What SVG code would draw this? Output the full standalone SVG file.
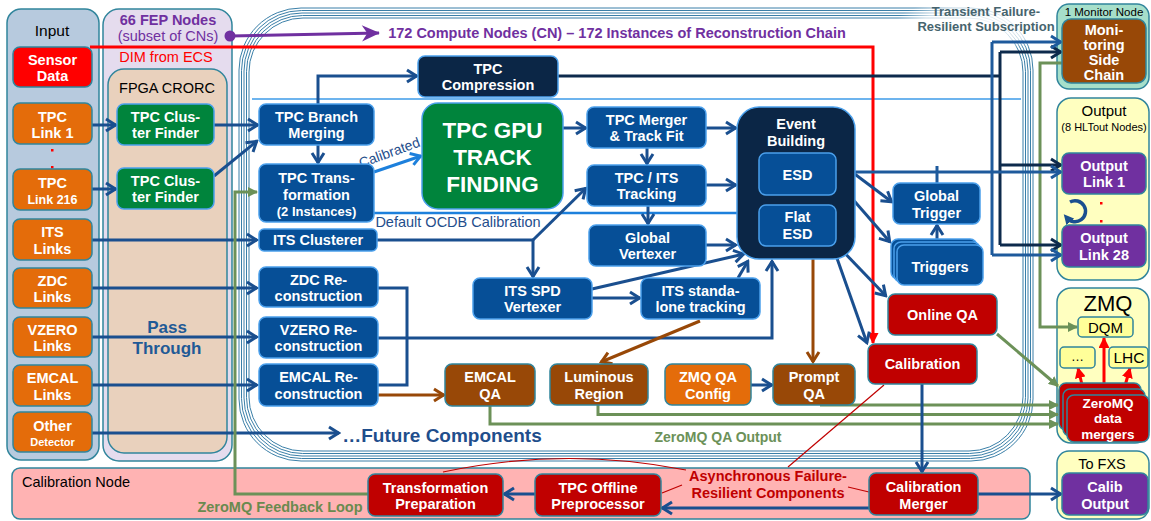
<svg xmlns="http://www.w3.org/2000/svg" width="1151" height="521" viewBox="0 0 1151 521">
<defs>
<style>
text{font-family:"Liberation Sans",Arial,sans-serif}
.nt{fill:#fff;font-weight:bold;font-size:14.5px;text-anchor:middle}
.pn{stroke:#31859c;stroke-width:1.5}
.b{fill:#064f97;stroke:#4ba0ec;stroke-width:1.5}
.nv{fill:#0b2646;stroke:#4ba0ec;stroke-width:1.5}
.g{fill:#00843c;stroke:#4ba0ec;stroke-width:1.5}
.o{fill:#e46c0a;stroke:#31859c;stroke-width:1.5}
.r{fill:#c00000;stroke:#31859c;stroke-width:1.5}
.br{fill:#984807;stroke:#31859c;stroke-width:1.5}
.p{fill:#7030a0;stroke:#31859c;stroke-width:1.5}
.y{fill:#ffff99;stroke:#31859c;stroke-width:1.5}
.cr{fill:none;stroke:#3a7fa8;stroke-width:1}
.cb{fill:none;stroke:#1a4f8f;stroke-width:3;marker-end:url(#mb)}
.cl{fill:none;stroke:#1a4f8f;stroke-width:3}
.cc{fill:none;stroke:#1d80dc;stroke-width:3;marker-end:url(#mc)}
.cn{fill:none;stroke:#0d2a4c;stroke-width:3}
.cna{fill:none;stroke:#0d2a4c;stroke-width:3;marker-end:url(#mn)}
.cm{fill:none;stroke:#1e5a9c;stroke-width:3}
.cma{fill:none;stroke:#1e5a9c;stroke-width:3;marker-end:url(#mm)}
.cg{fill:none;stroke:#6c9158;stroke-width:3;marker-end:url(#mg)}
.cbr{fill:none;stroke:#984807;stroke-width:3;marker-end:url(#mbr)}
.tr{fill:none;stroke:#c00000;stroke-width:1.2}
</style>
<marker id="mb" viewBox="0 0 16 16" refX="14" refY="8" markerWidth="16" markerHeight="16" orient="auto" markerUnits="userSpaceOnUse"><path d="M4,2 L13.5,8 L4,14" fill="none" stroke="#1a4f8f" stroke-width="3"/></marker>
<marker id="mc" viewBox="0 0 16 16" refX="14" refY="8" markerWidth="16" markerHeight="16" orient="auto" markerUnits="userSpaceOnUse"><path d="M4,2 L13.5,8 L4,14" fill="none" stroke="#1d80dc" stroke-width="3"/></marker>
<marker id="mn" viewBox="0 0 16 16" refX="14" refY="8" markerWidth="16" markerHeight="16" orient="auto" markerUnits="userSpaceOnUse"><path d="M4,2 L13.5,8 L4,14" fill="none" stroke="#0d2a4c" stroke-width="3"/></marker>
<marker id="mm" viewBox="0 0 16 16" refX="14" refY="8" markerWidth="16" markerHeight="16" orient="auto" markerUnits="userSpaceOnUse"><path d="M4,2 L13.5,8 L4,14" fill="none" stroke="#1e5a9c" stroke-width="3"/></marker>
<marker id="mbr" viewBox="0 0 16 16" refX="14" refY="8" markerWidth="16" markerHeight="16" orient="auto" markerUnits="userSpaceOnUse"><path d="M4,2 L13.5,8 L4,14" fill="none" stroke="#984807" stroke-width="3"/></marker>
<marker id="mg" viewBox="0 0 10 10" refX="9" refY="5" markerWidth="10" markerHeight="10" orient="auto" markerUnits="userSpaceOnUse"><path d="M0,0 L10,5 L0,10 z" fill="#6c9158"/></marker>
<marker id="mr" viewBox="0 0 10 10" refX="9" refY="5" markerWidth="11" markerHeight="11" orient="auto" markerUnits="userSpaceOnUse"><path d="M0,0 L10,5 L0,10 z" fill="#ff0000"/></marker>
<marker id="mt" viewBox="0 0 10 10" refX="5" refY="5" markerWidth="10" markerHeight="10" orient="auto" markerUnits="userSpaceOnUse"><path d="M0,0 L10,5 L0,10 z" fill="#1a4f8f"/></marker>
<marker id="mp" viewBox="0 0 20 20" refX="19" refY="10" markerWidth="20" markerHeight="18" orient="auto" markerUnits="userSpaceOnUse"><path d="M0,1 L20,10 L0,19 L6,10 z" fill="#7030a0"/></marker>
<radialGradient id="glow" cx="0.5" cy="0.5" r="0.5"><stop offset="0" stop-color="#fff" stop-opacity="0.95"/><stop offset="0.7" stop-color="#fff" stop-opacity="0.7"/><stop offset="1" stop-color="#fff" stop-opacity="0"/></radialGradient>
</defs>

<rect width="1151" height="521" fill="#fff"/>

<!-- Panels -->
<g id="panels">
<rect id="input-panel" class="pn" x="7" y="9" width="92" height="451" rx="14" fill="#b7cade"/>
<text x="52" y="36" text-anchor="middle" font-size="15.5px">Input</text>
<rect id="fep-panel" class="pn" x="103" y="9" width="129" height="452" rx="16" fill="#e5dcee"/>
<text x="168" y="25" text-anchor="middle" font-size="14.5px" font-weight="bold" fill="#7030a0">66 FEP Nodes</text>
<text x="168" y="41" text-anchor="middle" font-size="14.5px" fill="#7030a0">(subset of CNs)</text>
<text x="166" y="62" text-anchor="middle" font-size="14.5px" fill="#ff0000">DIM from ECS</text>
<rect id="fpga-panel" class="pn" x="108" y="69" width="119" height="384" rx="16" fill="#e9d1bd"/>
<text x="167" y="93" text-anchor="middle" font-size="14.5px">FPGA CRORC</text>
<text x="167" y="333" text-anchor="middle" font-size="17px" font-weight="bold" fill="#1f5a96">Pass</text>
<text x="167" y="354" text-anchor="middle" font-size="17px" font-weight="bold" fill="#1f5a96">Through</text>

<g id="cn-panel">
<rect class="cr" x="239" y="8" width="794" height="453" rx="62" fill="#fff"/>
<rect class="cr" x="241.5" y="10.5" width="789" height="448" rx="60"/>
<rect class="cr" x="244" y="13" width="784" height="443" rx="58"/>
<rect class="cr" x="246.5" y="15.5" width="779" height="438" rx="56"/>
<rect class="cr" x="249" y="18" width="774" height="433" rx="54" fill="#e4dcee"/>
</g>
<ellipse cx="985" cy="24" rx="90" ry="26" fill="url(#glow)"/>
<text x="986" y="16" text-anchor="middle" font-size="13px" font-weight="bold" fill="#46646e">Transient Failure-</text>
<text x="986" y="31" text-anchor="middle" font-size="13px" font-weight="bold" fill="#46646e">Resilient Subscription</text>
<line x1="252" y1="99" x2="1021" y2="99" stroke="#3d9be9" stroke-width="1.5"/>
<text x="617" y="38" text-anchor="middle" font-size="14.5px" font-weight="bold" fill="#7030a0">172 Compute Nodes (CN) – 172 Instances of Reconstruction Chain</text>
<text x="442" y="442" text-anchor="middle" font-size="19px" font-weight="bold" fill="#1f4e8c">…Future Components</text>
<text x="718" y="442" text-anchor="middle" font-size="14px" font-weight="bold" fill="#6c9158">ZeroMQ QA Output</text>
<text x="458" y="227" text-anchor="middle" font-size="14.5px" fill="#1f4e8c">Default OCDB Calibration</text>
<text x="0" y="0" font-size="14px" fill="#1f4e8c" text-anchor="middle" transform="translate(391,157) rotate(-20)">Calibrated</text>

<rect id="calib-panel" class="pn" x="12" y="468" width="1018" height="51" rx="8" fill="#ffb3b3"/>
<text x="22" y="487" font-size="14.5px">Calibration Node</text>
<text x="280" y="512" text-anchor="middle" font-size="14.5px" font-weight="bold" fill="#6a8a4f">ZeroMQ Feedback Loop</text>
<text x="768" y="481" text-anchor="middle" font-size="14.5px" font-weight="bold" fill="#c00000">Asynchronous Failure-</text>
<text x="768" y="498" text-anchor="middle" font-size="14.5px" font-weight="bold" fill="#c00000">Resilient Components</text>

<rect id="monitor-panel" class="pn" x="1057" y="4" width="92" height="85" rx="12" fill="#a6dfca"/>
<text x="1104" y="16" text-anchor="middle" font-size="11.5px">1 Monitor Node</text>
<rect id="output-panel" class="pn" x="1057" y="98" width="92" height="182" rx="14" fill="#ffffc0"/>
<text x="1104" y="116" text-anchor="middle" font-size="15px">Output</text>
<text x="1104" y="131" text-anchor="middle" font-size="11px">(8 HLTout Nodes)</text>
<rect x="1100" y="202" width="2.5" height="2.5" fill="#ff0000"/>
<rect x="1100" y="220" width="2.5" height="2.5" fill="#ff0000"/>
<rect id="zmq-panel" class="pn" x="1057" y="288" width="92" height="155" rx="14" fill="#ffffc0"/>
<text x="1108" y="311" text-anchor="middle" font-size="22px">ZMQ</text>
<rect id="fxs-panel" class="pn" x="1057" y="451" width="92" height="68" rx="12" fill="#ffffc0"/>
<text x="1102" y="469" text-anchor="middle" font-size="14.5px">To FXS</text>
<rect x="51" y="149" width="2.5" height="2.5" fill="#ff0000"/>
<rect x="51" y="166" width="2.5" height="2.5" fill="#ff0000"/>
</g>

<!-- Connectors -->
<g id="connectors">
<path d="M230,36 L379,33" fill="none" stroke="#7030a0" stroke-width="3" marker-end="url(#mp)"/>
<circle cx="230" cy="36" r="5.5" fill="#7030a0"/>
<path d="M90,47 H873 V343" fill="none" stroke="#ff0000" stroke-width="3" marker-end="url(#mr)"/>
<path class="cb" d="M92,125 H116"/>
<path class="cb" d="M92,189 H116"/>
<path class="cb" d="M214,125 H258"/>
<path class="cb" d="M214,176 L257,141"/>
<path class="cb" d="M92,240 H257"/>
<path class="cb" d="M92,288 H257"/>
<path class="cb" d="M92,337 H257"/>
<path class="cb" d="M92,385 H257"/>
<path class="cb" d="M92,433 H339"/>
<path class="cb" d="M318,104 V76 H417"/>
<path class="cb" d="M318,145 V163"/>
<path class="cc" d="M374,172 L421,156"/>
<path d="M374,213 H759" fill="none" stroke="#1d80dc" stroke-width="2.5" marker-end="url(#mc)"/>
<path class="cb" d="M377,240 H533 V277"/>
<path class="cb" d="M533,240 L586,188"/>
<path class="cb" d="M563,128 H586"/>
<path class="cb" d="M647,148 V164"/>
<path class="cb" d="M706,128 H736"/>
<path class="cb" d="M706,185 H736"/>
<path class="cb" d="M648,206 V224"/>
<path class="cb" d="M706,245 H736"/>
<path class="cb" d="M592,289 L744,254"/>
<path class="cb" d="M592,298 H640"/>
<path class="cb" d="M738,278 L748,261"/>
<path class="cb" d="M378,338 H772 V261"/>
<path class="cl" d="M378,288 H407 V385 H378"/>
<path class="cbr" d="M378,395 H444"/>
<path class="cbr" d="M700,321 L601,362"/>
<path class="cbr" d="M813,259 V362"/>
<path class="cb" d="M751,385 H772"/>
<path class="cg" d="M490,406 V424 H1058"/>
<path class="cg" d="M598,405 V414.5 H1058"/>
<path class="cg" d="M820,405 H1058"/>
<path class="cg" d="M997,334 L1058,386"/>
<path class="cg" d="M1062,63 H1040 V327 H1077"/>
<path class="cn" d="M558,76 H1000"/>
<path class="cn" d="M1000,52 V245"/>
<path class="cna" d="M1000,52 H1061"/>
<path class="cna" d="M1000,165 H1061"/>
<path class="cna" d="M1000,245 H1061"/>
<path class="cma" d="M836,172 H1061"/>
<path class="cm" d="M992,42 V255"/>
<path class="cma" d="M992,42 H1061"/>
<path class="cma" d="M992,255 H1061"/>
<path class="cm" d="M937,183 V166"/>
<path class="cb" d="M937,240 V225"/>
<path class="cb" d="M836,160 L892,202"/>
<path class="cb" d="M836,180 L890,242"/>
<path class="cb" d="M836,244 L886,296"/>
<path class="cb" d="M833,247 L867,343"/>
<path class="cb" d="M922,384 V472"/>
<path class="cb" d="M978,494 H1061"/>
<path class="cb" d="M869,508 H662"/>
<path class="cb" d="M535,494 H504"/>
<path class="cg" d="M368,494 H235 V192 H257"/>
<path d="M1084,393 L1078,368" fill="none" stroke="#ff0000" stroke-width="3" marker-end="url(#mr)"/>
<path d="M1104,395 V338" fill="none" stroke="#ff0000" stroke-width="3" marker-end="url(#mr)"/>
<path d="M1123,393 L1130,368" fill="none" stroke="#ff0000" stroke-width="3" marker-end="url(#mr)"/>
<path class="tr" d="M788,467 L884,385"/>
<path class="tr" d="M443,472 Q565,446 686,470"/>
<path class="tr" d="M662,493 L682,485"/>
<path class="tr" d="M848,487 L869,492"/>
<path d="M1070,202 A10.5,10.5 0 1 1 1067,218" fill="none" stroke="#1a4f8f" stroke-width="3.5" marker-end="url(#mt)"/>
</g>

<!-- Input nodes -->
<g id="sensor-data"><rect x="13" y="47" width="79" height="40" rx="7" fill="#ff0000" stroke="#31859c" stroke-width="1.5"/><text class="nt" x="52.5" y="65">Sensor</text><text class="nt" x="52.5" y="81">Data</text></g>
<g id="tpc-link-1"><rect class="o" x="13" y="103" width="79" height="41" rx="7"/><text class="nt" x="52.5" y="122">TPC</text><text class="nt" x="52.5" y="138">Link 1</text></g>
<g id="tpc-link-216"><rect class="o" x="13" y="169" width="79" height="41" rx="7"/><text class="nt" x="52.5" y="188">TPC</text><text class="nt" x="52.5" y="204" style="font-size:12.5px">Link 216</text></g>
<g id="its-links"><rect class="o" x="13" y="219" width="79" height="41" rx="7"/><text class="nt" x="52.5" y="237">ITS</text><text class="nt" x="52.5" y="254">Links</text></g>
<g id="zdc-links"><rect class="o" x="13" y="268" width="79" height="40" rx="7"/><text class="nt" x="52.5" y="286">ZDC</text><text class="nt" x="52.5" y="302">Links</text></g>
<g id="vzero-links"><rect class="o" x="13" y="317" width="79" height="40" rx="7"/><text class="nt" x="52.5" y="335">VZERO</text><text class="nt" x="52.5" y="351">Links</text></g>
<g id="emcal-links"><rect class="o" x="13" y="365" width="79" height="41" rx="7"/><text class="nt" x="52.5" y="383">EMCAL</text><text class="nt" x="52.5" y="400">Links</text></g>
<g id="other-detector"><rect class="o" x="13" y="412" width="79" height="40" rx="7"/><text class="nt" x="52.5" y="431">Other</text><text class="nt" x="52.5" y="446" style="font-size:11px">Detector</text></g>

<!-- FPGA nodes -->
<g id="tpc-cf-1"><rect class="g" x="117" y="104" width="97" height="41" rx="7"/><text class="nt" x="165.5" y="122">TPC Clus-</text><text class="nt" x="165.5" y="138">ter Finder</text></g>
<g id="tpc-cf-2"><rect class="g" x="117" y="168" width="97" height="41" rx="7"/><text class="nt" x="165.5" y="186">TPC Clus-</text><text class="nt" x="165.5" y="202">ter Finder</text></g>

<!-- Compute nodes -->
<g id="tpc-compression"><rect class="nv" x="418" y="56" width="140" height="41" rx="7"/><text class="nt" x="488" y="74">TPC</text><text class="nt" x="488" y="90">Compression</text></g>
<g id="tpc-branch-merging"><rect class="b" x="259" y="104" width="115" height="41" rx="7"/><text class="nt" x="316.5" y="122">TPC Branch</text><text class="nt" x="316.5" y="138">Merging</text></g>
<g id="tpc-transformation"><rect class="b" x="259" y="164" width="115" height="58" rx="7"/><text class="nt" x="316.5" y="183">TPC Trans-</text><text class="nt" x="316.5" y="200">formation</text><text class="nt" x="316.5" y="216" style="font-size:13px">(2 Instances)</text></g>
<g id="its-clusterer"><rect class="b" x="259" y="229" width="118" height="22" rx="5"/><text class="nt" x="318" y="245">ITS Clusterer</text></g>
<g id="zdc-reco"><rect class="b" x="259" y="267" width="119" height="40" rx="7"/><text class="nt" x="318.5" y="285">ZDC Re-</text><text class="nt" x="318.5" y="301">construction</text></g>
<g id="vzero-reco"><rect class="b" x="259" y="317" width="119" height="41" rx="7"/><text class="nt" x="318.5" y="335">VZERO Re-</text><text class="nt" x="318.5" y="351">construction</text></g>
<g id="emcal-reco"><rect class="b" x="259" y="364" width="119" height="42" rx="7"/><text class="nt" x="318.5" y="382">EMCAL Re-</text><text class="nt" x="318.5" y="399">construction</text></g>
<g id="tpc-gpu"><rect class="g" x="422" y="103" width="141" height="106" rx="16"/><text class="nt" x="492.5" y="138" style="font-size:22.5px">TPC GPU</text><text class="nt" x="492.5" y="165" style="font-size:22.5px">TRACK</text><text class="nt" x="492.5" y="192" style="font-size:22.5px">FINDING</text></g>
<g id="tpc-merger"><rect class="b" x="587" y="107" width="119" height="41" rx="7"/><text class="nt" x="646.5" y="125">TPC Merger</text><text class="nt" x="646.5" y="141">&amp; Track Fit</text></g>
<g id="tpc-its-tracking"><rect class="b" x="587" y="165" width="119" height="41" rx="7"/><text class="nt" x="646.5" y="183">TPC / ITS</text><text class="nt" x="646.5" y="199">Tracking</text></g>
<g id="global-vertexer"><rect class="b" x="589" y="225" width="117" height="41" rx="7"/><text class="nt" x="647.5" y="243">Global</text><text class="nt" x="647.5" y="259">Vertexer</text></g>
<g id="its-spd-vertexer"><rect class="b" x="473" y="278" width="119" height="41" rx="7"/><text class="nt" x="532.5" y="296">ITS SPD</text><text class="nt" x="532.5" y="312">Vertexer</text></g>
<g id="its-standalone"><rect class="b" x="641" y="278" width="119" height="41" rx="7"/><text class="nt" x="700.5" y="296">ITS standa-</text><text class="nt" x="700.5" y="312">lone tracking</text></g>
<g id="event-building"><rect class="nv" x="737" y="107" width="118" height="152" rx="22"/><text class="nt" x="796" y="129">Event</text><text class="nt" x="796" y="146">Building</text></g>
<g id="esd"><rect class="b" x="759" y="153" width="77" height="42" rx="7"/><text class="nt" x="797.5" y="180">ESD</text></g>
<g id="flat-esd"><rect class="b" x="759" y="205" width="77" height="41" rx="7"/><text class="nt" x="797.5" y="222">Flat</text><text class="nt" x="797.5" y="239">ESD</text></g>
<g id="global-trigger"><rect class="b" x="893" y="183" width="87" height="41" rx="7"/><text class="nt" x="936.5" y="201">Global</text><text class="nt" x="936.5" y="218">Trigger</text></g>
<g id="triggers"><rect class="b" x="891" y="239" width="86" height="40" rx="7"/><rect class="b" x="894" y="242" width="86" height="40" rx="7"/><rect class="b" x="897" y="245" width="86" height="40" rx="7"/><text class="nt" x="940" y="272">Triggers</text></g>
<g id="online-qa"><rect class="r" x="888" y="294" width="109" height="41" rx="7"/><text class="nt" x="942.5" y="320">Online QA</text></g>
<g id="calibration"><rect class="r" x="868" y="344" width="109" height="40" rx="7"/><text class="nt" x="922.5" y="369">Calibration</text></g>
<g id="emcal-qa"><rect class="br" x="445" y="364" width="90" height="42" rx="7"/><text class="nt" x="490" y="382">EMCAL</text><text class="nt" x="490" y="399">QA</text></g>
<g id="luminous-region"><rect class="br" x="550" y="364" width="98" height="41" rx="7"/><text class="nt" x="599" y="382">Luminous</text><text class="nt" x="599" y="399">Region</text></g>
<g id="zmq-qa-config"><rect class="o" x="665" y="364" width="86" height="41" rx="7"/><text class="nt" x="708" y="382">ZMQ QA</text><text class="nt" x="708" y="399">Config</text></g>
<g id="prompt-qa"><rect class="br" x="773" y="364" width="82" height="41" rx="7"/><text class="nt" x="814" y="382">Prompt</text><text class="nt" x="814" y="399">QA</text></g>

<!-- Right column nodes -->
<g id="monitoring-side-chain"><rect class="br" x="1062" y="19" width="84" height="64" rx="9"/><text class="nt" x="1104" y="35">Moni-</text><text class="nt" x="1104" y="50">toring</text><text class="nt" x="1104" y="65">Side</text><text class="nt" x="1104" y="80">Chain</text></g>
<g id="output-link-1"><rect class="p" x="1062" y="153" width="84" height="41" rx="7"/><text class="nt" x="1104" y="171">Output</text><text class="nt" x="1104" y="187">Link 1</text></g>
<g id="output-link-28"><rect class="p" x="1062" y="225" width="84" height="42" rx="7"/><text class="nt" x="1104" y="243">Output</text><text class="nt" x="1104" y="260">Link 28</text></g>
<g id="dqm"><rect class="y" x="1078" y="317" width="55" height="20" rx="4"/><text x="1105.5" y="333" text-anchor="middle" font-size="15px">DQM</text></g>
<g id="dots-box"><rect class="y" x="1060" y="347" width="35" height="21" rx="4"/><text x="1077.5" y="361" text-anchor="middle" font-size="13px">…</text></g>
<g id="lhc"><rect class="y" x="1109" y="347" width="39" height="21" rx="4"/><text x="1129" y="363" text-anchor="middle" font-size="15.5px">LHC</text></g>
<g id="zeromq-mergers"><rect class="r" x="1059" y="383" width="82" height="47" rx="7"/><rect class="r" x="1063" y="389" width="82" height="47" rx="7"/><rect class="r" x="1067" y="395" width="82" height="47" rx="7"/><text class="nt" x="1108" y="408" style="font-size:13.5px">ZeroMQ</text><text class="nt" x="1108" y="423" style="font-size:13.5px">data</text><text class="nt" x="1108" y="439" style="font-size:13.5px">mergers</text></g>
<g id="calib-output"><rect class="p" x="1062" y="473" width="86" height="42" rx="7"/><text class="nt" x="1105" y="492">Calib</text><text class="nt" x="1105" y="509">Output</text></g>

<!-- Calibration node components -->
<g id="transformation-preparation"><rect class="r" x="368" y="474" width="135" height="42" rx="7"/><text class="nt" x="435.5" y="493">Transformation</text><text class="nt" x="435.5" y="509">Preparation</text></g>
<g id="tpc-offline-preprocessor"><rect class="r" x="535" y="474" width="126" height="42" rx="7"/><text class="nt" x="598" y="493">TPC Offline</text><text class="nt" x="598" y="509">Preprocessor</text></g>
<g id="calibration-merger"><rect class="r" x="869" y="473" width="109" height="42" rx="7"/><text class="nt" x="923.5" y="492">Calibration</text><text class="nt" x="923.5" y="509">Merger</text></g>
</svg>
